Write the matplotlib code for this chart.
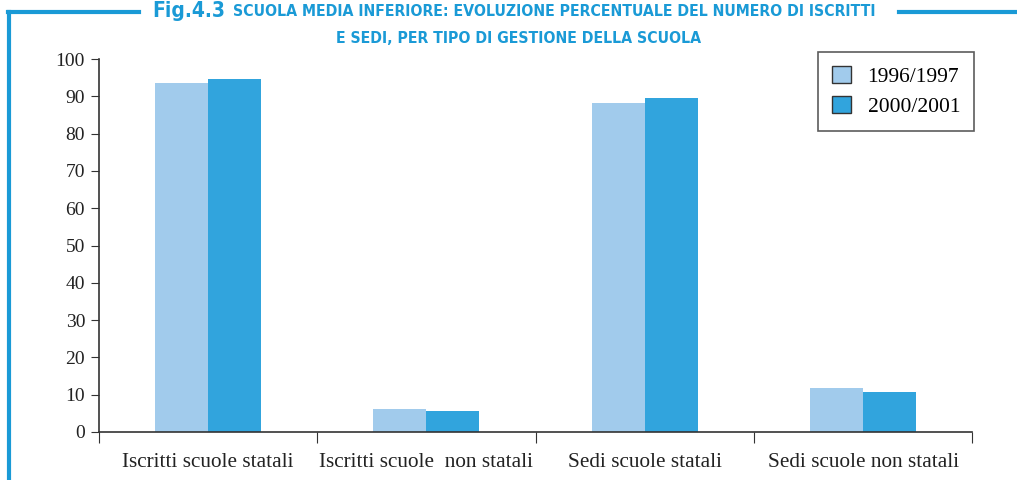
import matplotlib.pyplot as plt
from matplotlib.lines import Line2D
from matplotlib import font_manager
import numpy as np

categorie = ["Iscritti scuole statali", "Iscritti scuole  non statali",
             "Sedi scuole statali", "Sedi scuole non statali"]
anni = ["1996/1997", "2000/2001"]
val_9697 = [93.6, 6.1, 88.2, 11.8]
val_0001 = [94.6, 5.5, 89.5, 10.7]
colori = ["#a1cbec", "#31a4dd"]
blu = "#1a9ad6"

plt.rcParams['font.family'] = ['Liberation Serif', 'DejaVu Serif']

fig = plt.figure(figsize=(10.17, 4.8), dpi=100)
ax = fig.add_axes([0.0973, 0.1, 0.8587, 0.777])

x = np.arange(len(categorie)) + 0.5
w = 0.243
ax.bar(x - w / 2, val_9697, w, color=colori[0], label=anni[0])
ax.bar(x + w / 2, val_0001, w, color=colori[1], label=anni[1])

ax.set_xlim(0, 4)
ax.set_ylim(0, 100)
ax.set_yticks(range(0, 101, 10))
ax.set_xticks(range(0, 5))
ax.set_xticklabels([])
ax.set_xticks(x, minor=True)
ax.set_xticklabels(categorie, minor=True)
ax.tick_params(axis='x', which='major', length=8, direction='out', color='#333333')
ax.tick_params(axis='x', which='minor', length=0, pad=15, labelsize=15.3, labelcolor='#222222')
ax.tick_params(axis='y', length=6, color='#333333', labelsize=14, labelcolor='#222222', pad=4)
for s in ['top', 'right']:
    ax.spines[s].set_visible(False)
for s in ['left', 'bottom']:
    ax.spines[s].set_color('#333333')
    ax.spines[s].set_linewidth(1.2)

leg = ax.legend(loc='upper right', bbox_to_anchor=(1.002, 1.02), fontsize=15.5,
                frameon=True, fancybox=False, edgecolor='#333333',
                handlelength=0.9, handleheight=0.9, handletextpad=0.75,
                borderpad=0.65, labelspacing=0.4, borderaxespad=0)
leg.get_frame().set_linewidth(1.2)
for h in leg.legend_handles:
    h.set_edgecolor('#333333')
    h.set_linewidth(1.0)

# cornice e titolo
fig.add_artist(Line2D([0.0093, 0.0093], [0.0, 0.975], color=blu, lw=3))
fig.add_artist(Line2D([0.008, 0.137], [0.975, 0.975], color=blu, lw=3))
fig.add_artist(Line2D([0.884, 1.0], [0.975, 0.975], color=blu, lw=3))
fp_big = font_manager.FontProperties(family='DejaVu Sans', weight='bold',
                                     stretch='condensed', size=15)
fp_small = font_manager.FontProperties(family='DejaVu Sans', weight='bold',
                                       stretch='condensed', size=11.3)
fig.text(0.1495, 0.977, "Fig.4.3", color=blu, fontproperties=fp_big,
         va='center', ha='left')
fig.text(0.229, 0.977, "SCUOLA MEDIA INFERIORE: EVOLUZIONE PERCENTUALE DEL NUMERO DI ISCRITTI",
         color=blu, fontproperties=fp_small, va='center', ha='left')
fig.text(0.51, 0.92, "E SEDI, PER TIPO DI GESTIONE DELLA SCUOLA",
         color=blu, fontproperties=fp_small, va='center', ha='center')

fig.savefig("out.png", dpi=100)
